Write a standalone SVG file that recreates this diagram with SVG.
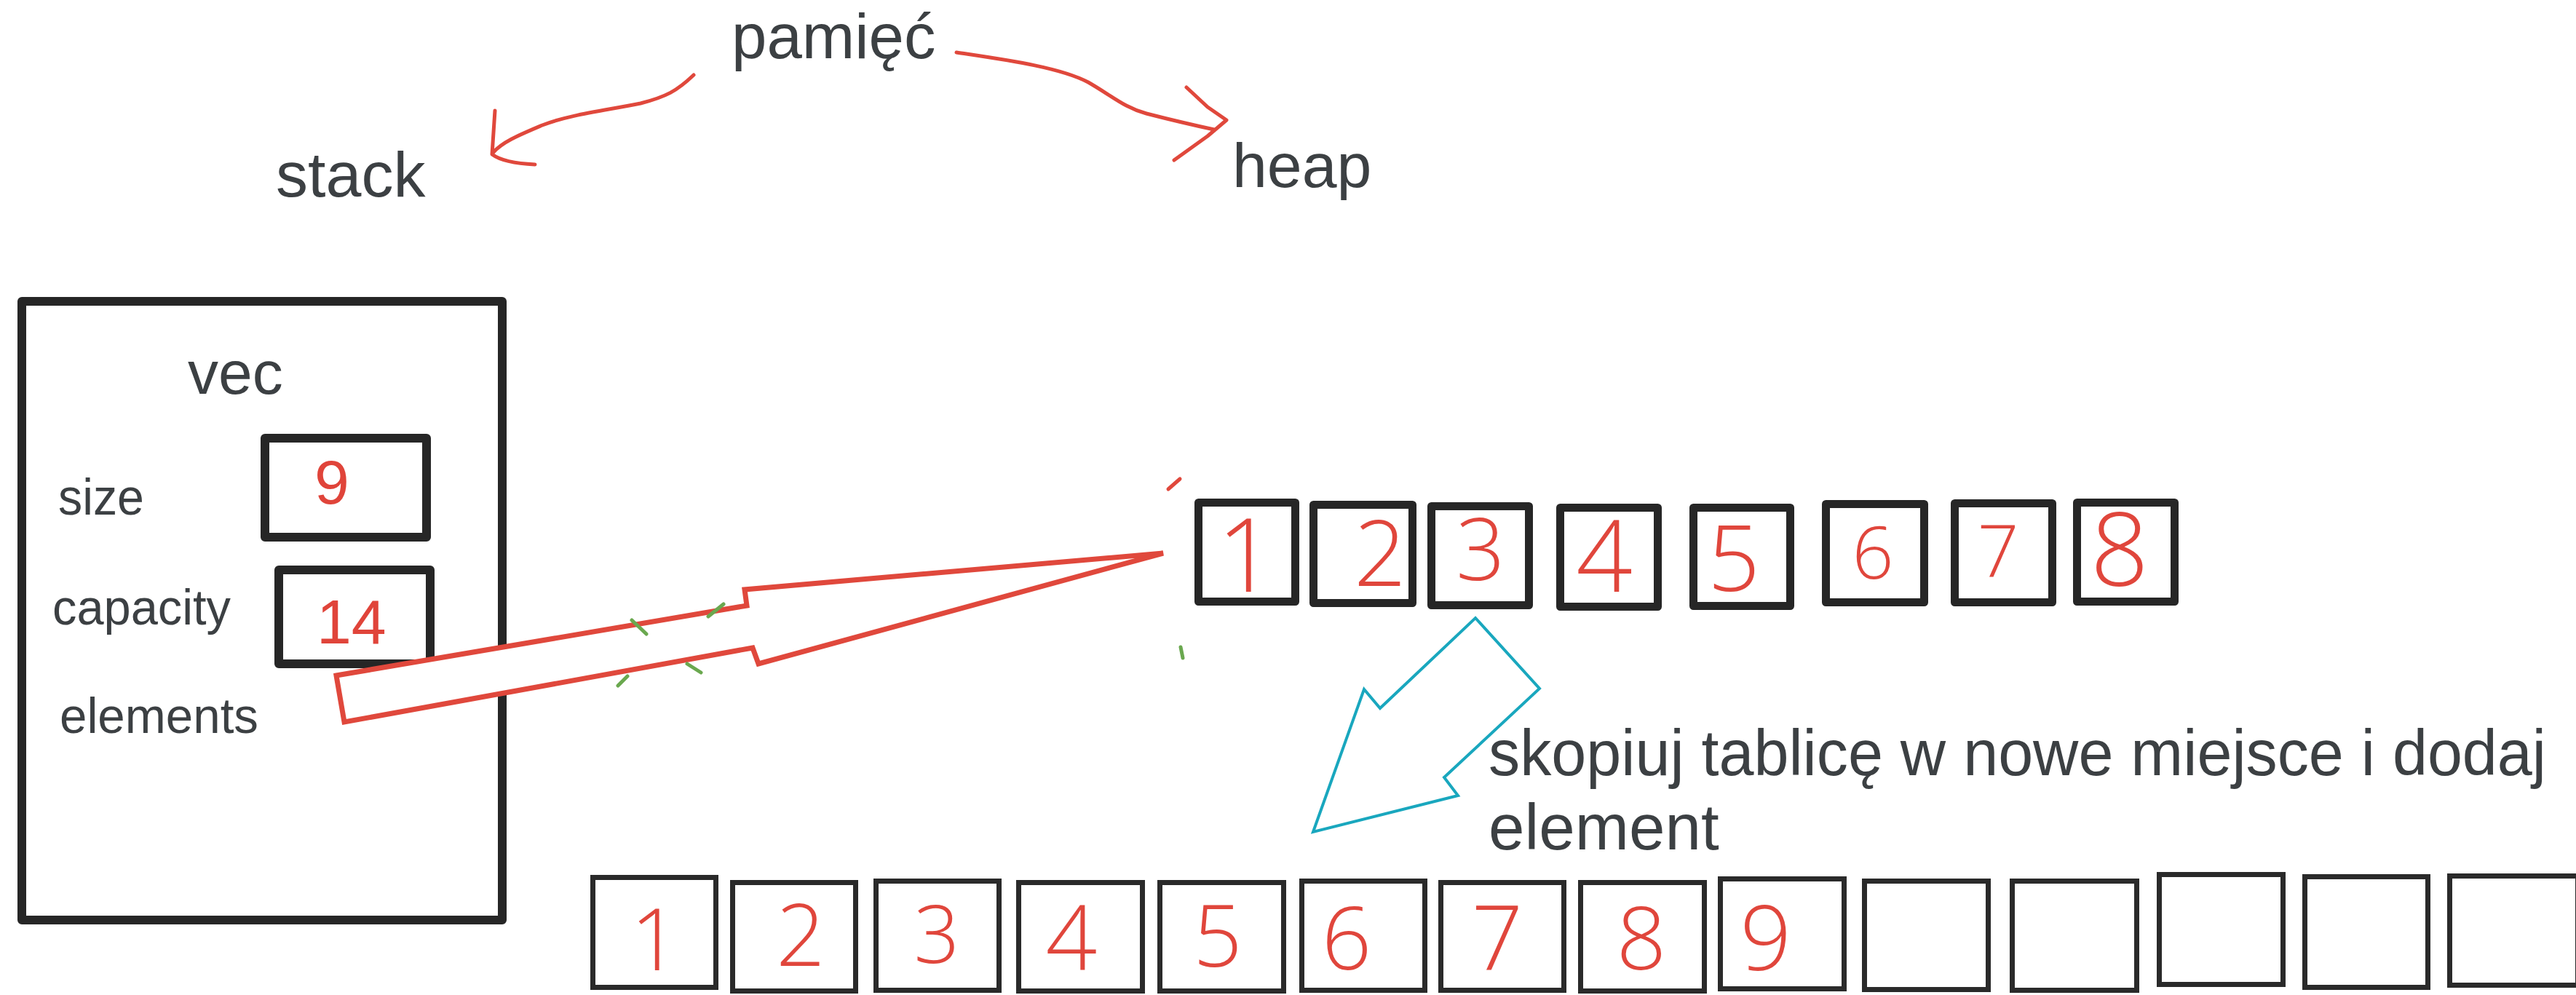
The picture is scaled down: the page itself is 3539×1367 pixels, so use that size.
<svg xmlns="http://www.w3.org/2000/svg" width="3539" height="1367" viewBox="0 0 3539 1367">
  <style>
    .lbl { font-family: "Liberation Sans", Arial, sans-serif; fill: #3c4043; }
    .num { font-family: "Liberation Sans", Arial, sans-serif; fill: #e0443a; }
    .hand { font-family: "Open Sans", "Liberation Sans", sans-serif; font-weight: 300; fill: #e0463c; text-anchor: middle; }
    .box { fill: #ffffff; stroke: #262626; stroke-linejoin: round; }
    .cell { fill: #ffffff; stroke: #262626; stroke-width: 11; stroke-linejoin: round; }
    .cell2 { fill: #ffffff; stroke: #2a2a2a; stroke-width: 7; }
    .ink { fill: none; stroke: #e0483c; stroke-width: 5; stroke-linecap: round; stroke-linejoin: round; }
    .speck { fill: none; stroke: #6aa84f; stroke-width: 5; stroke-linecap: round; }
  </style>

  <!-- memory split: stack / heap -->
  <g id="memory">
    <text class="lbl" x="1005" y="80" font-size="87">pamięć</text>
  </g>
  <g id="stack-label">
    <text class="lbl" x="379" y="270" font-size="88">stack</text>
  </g>
  <g id="heap-label">
    <text class="lbl" x="1693" y="257" font-size="86">heap</text>
  </g>

  <!-- vec struct on the stack -->
  <g id="vec">
    <rect class="box" x="30" y="414" width="660" height="850" stroke-width="12"/>
    <text class="lbl" x="258" y="541" font-size="84">vec</text>
    <text class="lbl" x="80" y="707" font-size="70" textLength="118" lengthAdjust="spacingAndGlyphs">size</text>
    <text class="lbl" x="72" y="858" font-size="68" textLength="245" lengthAdjust="spacingAndGlyphs">capacity</text>
    <text class="lbl" x="82" y="1007" font-size="68" textLength="273" lengthAdjust="spacingAndGlyphs">elements</text>
  </g>
  <g id="vec-size">
    <rect class="box" x="364" y="602" width="222" height="136" stroke-width="12"/>
    <text class="num" x="456" y="692" font-size="86" text-anchor="middle">9</text>
  </g>
  <g id="vec-capacity">
    <rect class="box" x="383" y="783" width="208" height="129" stroke-width="12"/>
    <text class="num" x="435" y="884" font-size="86">14</text>
  </g>

  <!-- old heap array -->
  <g id="old-array">
    <rect class="cell" x="1646.5" y="690.5" width="133" height="136"/>
    <rect class="cell" x="1804.5" y="693.5" width="136" height="135"/>
    <rect class="cell" x="1966.5" y="695.5" width="134" height="136"/>
    <rect class="cell" x="2143.5" y="697.5" width="134" height="136"/>
    <rect class="cell" x="2326.5" y="697.5" width="133" height="135"/>
    <rect class="cell" x="2508.5" y="692.5" width="135" height="135"/>
    <rect class="cell" x="2685.5" y="691.5" width="134" height="136"/>
    <rect class="cell" x="2853.5" y="690.5" width="134" height="136"/>
    <text class="hand" x="1712" y="813" font-size="140">1</text>
    <text class="hand" x="1896" y="805" font-size="126">2</text>
    <text class="hand" x="2034" y="797" font-size="118">3</text>
    <text class="hand" x="2204" y="813" font-size="136">4</text>
    <text class="hand" x="2382" y="812" font-size="126">5</text>
    <text class="hand" x="2573" y="795" font-size="100">6</text>
    <text class="hand" x="2745" y="793" font-size="100">7</text>
    <text class="hand" x="2912" y="805" font-size="140">8</text>
  </g>

  <!-- new heap array -->
  <g id="new-array">
    <rect class="cell2" x="814.5" y="1205.5" width="169" height="151"/>
    <rect class="cell2" x="1006.5" y="1212.5" width="169" height="149"/>
    <rect class="cell2" x="1203.5" y="1210.5" width="169" height="150"/>
    <rect class="cell2" x="1399.5" y="1212.5" width="170" height="149"/>
    <rect class="cell2" x="1593.5" y="1212.5" width="170" height="149"/>
    <rect class="cell2" x="1788.5" y="1210.5" width="169" height="150"/>
    <rect class="cell2" x="1979.5" y="1212.5" width="169" height="148"/>
    <rect class="cell2" x="2171.5" y="1212.5" width="170" height="149"/>
    <rect class="cell2" x="2363.5" y="1207.5" width="170" height="151"/>
    <rect class="cell2" x="2561.5" y="1210.5" width="170" height="149"/>
    <rect class="cell2" x="2764.5" y="1210.5" width="171" height="150"/>
    <rect class="cell2" x="2966.5" y="1201.5" width="170" height="151"/>
    <rect class="cell2" x="3166.5" y="1204.5" width="169" height="152"/>
    <rect class="cell2" x="3365.5" y="1203.5" width="176" height="150"/>
    <text class="hand" x="900" y="1333" font-size="118">1</text>
    <text class="hand" x="1100" y="1327" font-size="118">2</text>
    <text class="hand" x="1287" y="1323" font-size="110">3</text>
    <text class="hand" x="1472" y="1333" font-size="124">4</text>
    <text class="hand" x="1673" y="1328" font-size="118">5</text>
    <text class="hand" x="1850" y="1332" font-size="120">6</text>
    <text class="hand" x="2057" y="1333" font-size="124">7</text>
    <text class="hand" x="2255" y="1332" font-size="120">8</text>
    <text class="hand" x="2426" y="1333" font-size="124">9</text>
  </g>

  <!-- note for the copy step -->
  <g id="note">
    <text class="lbl" x="2045" y="1065" font-size="89" textLength="1453" lengthAdjust="spacingAndGlyphs">skopiuj tablicę w nowe miejsce i dodaj</text>
    <text class="lbl" x="2045" y="1167" font-size="89">element</text>
  </g>

  <!-- connectors -->
  <g id="connectors">
    <!-- pamięć -> stack -->
    <path class="ink" d="M953,103 C930,125 915,133 880,142 C830,152 780,158 745,172 C712,186 690,195 677,210 M680,152 L676,212 Q692,224 735,226"/>
    <!-- pamięć -> heap -->
    <path class="ink" d="M1314,72 C1380,82 1455,92 1495,113 C1528,132 1545,148 1575,156 C1610,165 1640,172 1668,178 M1630,120 L1659,147 L1685,165 L1659,187 L1613,220"/>
    <!-- elements pointer -> old array -->
    <polygon points="462,928 1026,832 1023,810 1598,760 1042,912 1034,890 473,992" fill="#ffffff" stroke="#e0483c" stroke-width="7" stroke-linejoin="miter"/>
    <!-- old array -> new array -->
    <polygon points="2027,849 2115,946 1984,1068 2003,1093 1804,1143 1874,947 1896,973" fill="none" stroke="#19a7be" stroke-width="4" stroke-linejoin="miter"/>
    <!-- stray pen marks -->
    <path class="ink" d="M1605,672 L1621,658"/>
    <path class="speck" d="M868,852 L888,871 M973,847 L994,830 M944,912 L963,924 M849,942 L862,929 M1622,889 L1625,904"/>
  </g>
</svg>
